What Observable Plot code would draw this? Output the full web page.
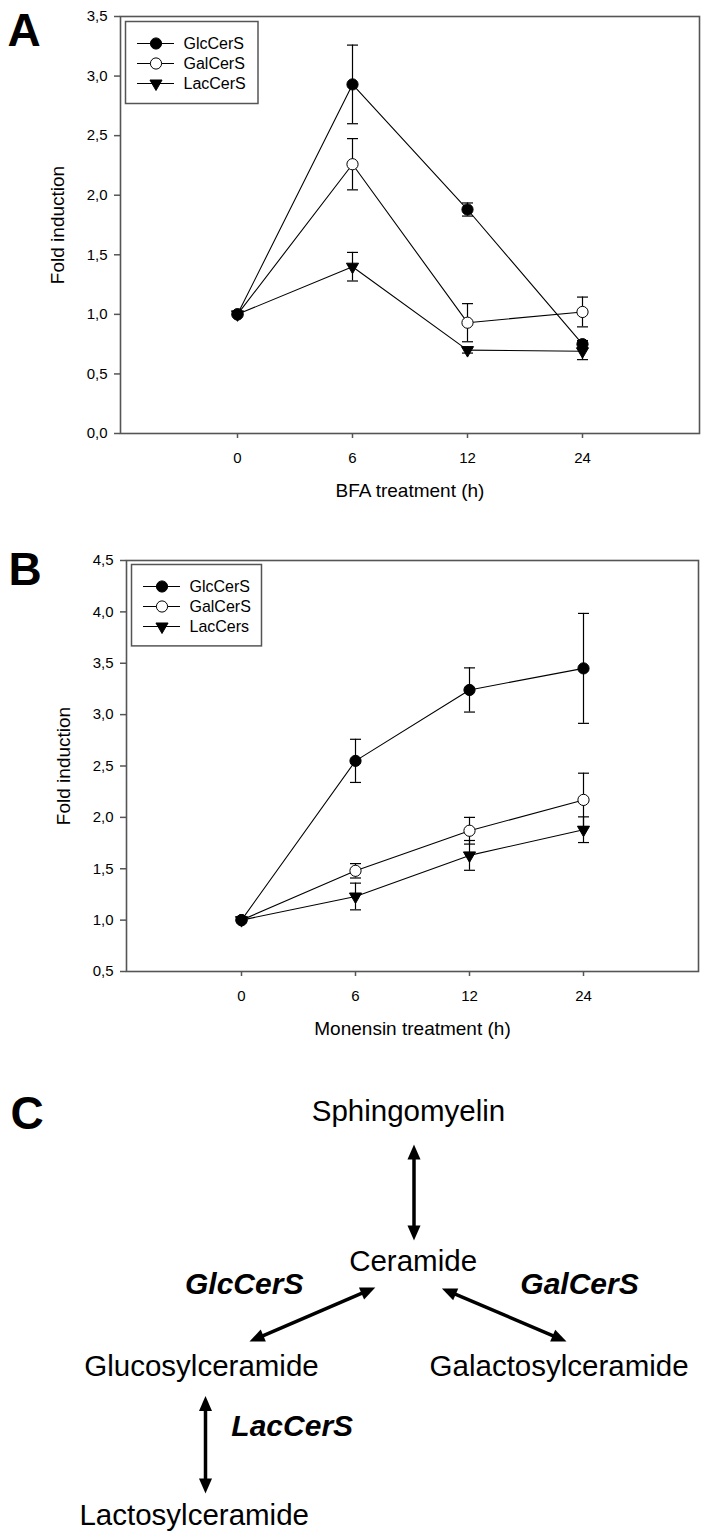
<!DOCTYPE html>
<html>
<head>
<meta charset="utf-8">
<script src="https://cdn.jsdelivr.net/npm/d3@7"></script>
<script src="https://cdn.jsdelivr.net/npm/@observablehq/plot@0.6"></script>
<style>
  body { margin: 0; background: #fff; }
  #root { position: relative; width: 706px; height: 1537px; overflow: hidden; background: #fff; }
  .panel { position: absolute; left: 0; width: 706px; }
  .legend { position: absolute; }
  svg { overflow: visible; }
</style>
</head>
<body>
<div id="root"></div>
<script>
// ---------------- data ----------------
const times = ["0", "6", "12", "24"];
const seriesA = ["GlcCerS", "GalCerS", "LacCerS"];
const seriesB = ["GlcCerS", "GalCerS", "LacCers"];

// Panel A: BFA treatment
const bfaGlc    = [1.00, 2.93, 1.88, 0.75];
const bfaGlcErr = [0.00, 0.33, 0.055, 0.03];
const bfaGal    = [1.00, 2.26, 0.93, 1.02];
const bfaGalErr = [0.00, 0.215, 0.16, 0.125];
const bfaLac    = [1.00, 1.40, 0.70, 0.69];
const bfaLacErr = [0.00, 0.12, 0.025, 0.07];

// Panel B: Monensin treatment
const monGlc    = [1.00, 2.55, 3.24, 3.45];
const monGlcErr = [0.00, 0.21, 0.215, 0.535];
const monGal    = [1.00, 1.48, 1.87, 2.17];
const monGalErr = [0.00, 0.07, 0.13, 0.26];
const monLac    = [1.00, 1.23, 1.63, 1.88];
const monLacErr = [0.00, 0.13, 0.145, 0.125];

const yTicksA = [0, 0.5, 1.0, 1.5, 2.0, 2.5, 3.0, 3.5];
const yTicksB = [0.5, 1.0, 1.5, 2.0, 2.5, 3.0, 3.5, 4.0, 4.5];
const xLabelA = "BFA treatment (h)";
const xLabelB = "Monensin treatment (h)";
const yLabel = "Fold induction";

// Panel C: pathway diagram
const lipids = ["Sphingomyelin", "Ceramide", "Glucosylceramide", "Galactosylceramide", "Lactosylceramide"];
const enzymes = ["GlcCerS", "GalCerS", "LacCerS"];
const reactions = [["Sphingomyelin", "Ceramide"], ["Ceramide", "Glucosylceramide"], ["Ceramide", "Galactosylceramide"], ["Glucosylceramide", "Lactosylceramide"]];

// ---------------- layout (diagram positions, px in panel C) ----------------
const lipidPos = {
  "Sphingomyelin": [408, 80], "Ceramide": [412.6, 230.5], "Glucosylceramide": [201, 335],
  "Galactosylceramide": [558.6, 335], "Lactosylceramide": [193.7, 484]
};
const enzymePos = {"GlcCerS": [243.7, 253], "GalCerS": [579, 253], "LacCerS": [291.7, 395]};
const arrowEnds = [
  [413.5, 104, 413.5, 200],
  [374.8, 247, 249, 301],
  [441.4, 248, 566, 301],
  [205, 355.5, 205, 453]
];

const FONT = "'Liberation Sans', Arial, Helvetica, sans-serif";
const fmt = d => d.toFixed(1).replace(".", ",");

function buildRows(names, vals, errs) {
  const rows = [];
  names.forEach((s, k) => times.forEach((t, i) => rows.push({series: s, k, time: t, value: vals[k][i], err: errs[k][i]})));
  return rows;
}

const styles = [
  {symbol: "circle", fill: "#000", stroke: "#000", r: 5.6},
  {symbol: "circle", fill: "#fff", stroke: "#000", r: 5.6},
  {symbol: "triangle", fill: "#000", stroke: "#000", r: 4.5, rotate: 180}
];

const capSymbol = {draw(ctx) { ctx.moveTo(-5.5, 0); ctx.lineTo(5.5, 0); }};

function dotMarks(data, xk, yk, extra = {}) {
  // draw open circles first, then filled circles, then triangles
  return [1, 0, 2].map(k => Plot.dot(data.filter(d => d.k === k), {x: xk, y: yk, ...styles[k], strokeWidth: 1, ...extra}));
}

function panel({rows, names, yDomain, yTicks, xLabel, letter, height, marginTop, marginBottom, marginLeft, marginRight, letterX, letterBase}) {
  const err = rows.filter(d => d.err > 0);
  return Plot.plot({
    width: 706, height, marginTop, marginBottom, marginLeft, marginRight,
    style: {fontFamily: FONT, fontSize: "15px", color: "#000", background: "transparent"},
    x: {type: "point", domain: times, padding: 1},
    y: {domain: yDomain},
    marks: [
      Plot.axisY({ticks: yTicks, tickFormat: fmt, tickSize: 6, tickPadding: 7, stroke: "#555", strokeWidth: 1.5, fontSize: 15, label: null}),
      Plot.axisX({tickSize: 5, tickPadding: 14, stroke: "#555", strokeWidth: 1.5, fontSize: 15, label: null}),
      Plot.frame({stroke: "#555", strokeWidth: 1.6}),
      Plot.line(rows, {x: "time", y: "value", z: "series", stroke: "#000", strokeWidth: 1.1}),
      Plot.ruleX(err, {x: "time", y1: d => d.value - d.err, y2: d => d.value + d.err, stroke: "#000", strokeWidth: 1.2}),
      Plot.dot(err, {x: "time", y: d => d.value + d.err, symbol: capSymbol, r: 3, stroke: "#000", strokeWidth: 1.2, fill: "none"}),
      Plot.dot(err, {x: "time", y: d => d.value - d.err, symbol: capSymbol, r: 3, stroke: "#000", strokeWidth: 1.2, fill: "none"}),
      ...dotMarks(rows, "time", "value"),
      Plot.text([xLabel], {frameAnchor: "bottom", dy: 63, lineAnchor: "bottom", textAnchor: "middle", fontSize: 19, fill: "#000"}),
      Plot.text([yLabel], {frameAnchor: "left", dx: -57, rotate: -90, lineAnchor: "bottom", textAnchor: "middle", fontSize: 19, fill: "#000"}),
      Plot.text([letter], {frameAnchor: "top-left", dx: letterX - marginLeft, dy: letterBase - marginTop, lineAnchor: "bottom", textAnchor: "start", fontSize: 46, fontWeight: "bold", fill: "#000"})
    ]
  });
}

function legend(names, w, h) {
  const items = names.map((s, k) => ({series: s, k}));
  return Plot.plot({
    width: w + 2, height: h + 2, margin: 1,
    style: {fontFamily: FONT, fontSize: "16px", color: "#000", background: "#fff"},
    x: {domain: [0, w], axis: null},
    y: {type: "point", domain: names, range: [22, 63], padding: 0, axis: null},
    marks: [
      Plot.frame({stroke: "#555", strokeWidth: 1.5, fill: "#fff"}),
      Plot.link(items, {x1: () => 11.5, x2: () => 48.5, y1: "series", y2: "series", stroke: "#000", strokeWidth: 1.2}),
      ...dotMarks(items, () => 30.5, "series"),
      Plot.text(items, {x: () => 58, y: "series", text: "series", textAnchor: "start", fontSize: 16, fill: "#000"})
    ]
  });
}

function diagram() {
  const rad = Math.PI / 180;
  const arrows = reactions.map((r, i) => {
    const [x1, y1, x2, y2] = arrowEnds[i];
    const len = Math.hypot(x2 - x1, y2 - y1), ux = (x2 - x1) / len, uy = (y2 - y1) / len;
    const inset = 10;
    return {from: r[0], to: r[1], x1, y1, x2, y2, sx1: x1 + ux * inset, sy1: y1 + uy * inset, sx2: x2 - ux * inset, sy2: y2 - uy * inset,
            a2: Math.atan2(ux, -uy) / rad, a1: Math.atan2(-ux, uy) / rad};
  });
  const heads = arrows.flatMap(a => [{x: a.x1, y: a.y1, angle: a.a1}, {x: a.x2, y: a.y2, angle: a.a2}]);
  const headSymbol = {draw(ctx) { const L = 15, W = 13; ctx.moveTo(0, 0); ctx.lineTo(W / 2, L); ctx.lineTo(-W / 2, L); ctx.closePath(); }};
  const nodes = lipids.map(n => ({name: n, x: lipidPos[n][0], y: lipidPos[n][1]}));
  const enz = enzymes.map(n => ({name: n, x: enzymePos[n][0], y: enzymePos[n][1]}));
  return Plot.plot({
    width: 706, height: 497, margin: 0,
    style: {fontFamily: FONT, color: "#000", background: "transparent"},
    x: {domain: [0, 706], axis: null},
    y: {domain: [0, 497], range: [0, 497], axis: null},
    marks: [
      Plot.link(arrows, {x1: "sx1", y1: "sy1", x2: "sx2", y2: "sy2", stroke: "#000", strokeWidth: 3.5}),
      Plot.dot(heads, {x: "x", y: "y", rotate: "angle", symbol: headSymbol, r: 5, fill: "#000", stroke: "none"}),
      Plot.text(nodes, {x: "x", y: "y", text: "name", lineAnchor: "bottom", fontSize: 29.5, fill: "#000"}),
      Plot.text(enz, {x: "x", y: "y", text: "name", lineAnchor: "bottom", fontSize: 30, fontWeight: "bold", fontStyle: "italic", fill: "#000"}),
      Plot.text(["C"], {frameAnchor: "top-left", dx: 10, dy: 88, lineAnchor: "bottom", textAnchor: "start", fontSize: 46, fontWeight: "bold", fill: "#000"})
    ]
  });
}

// ---------------- assemble ----------------
const root = document.getElementById("root");

function addPanel(top, height, svg, leg, legLeft, legTop) {
  const div = document.createElement("div");
  div.className = "panel";
  div.style.top = top + "px";
  div.style.height = height + "px";
  div.appendChild(svg);
  if (leg) {
    const ld = document.createElement("div");
    ld.className = "legend";
    ld.style.left = (legLeft - 1) + "px";
    ld.style.top = (legTop - 1) + "px";
    ld.appendChild(leg);
    div.appendChild(ld);
  }
  root.appendChild(div);
}

const rowsA = buildRows(seriesA, [bfaGlc, bfaGal, bfaLac], [bfaGlcErr, bfaGalErr, bfaLacErr]);
const rowsB = buildRows(seriesB, [monGlc, monGal, monLac], [monGlcErr, monGalErr, monLacErr]);

addPanel(0, 510, panel({rows: rowsA, names: seriesA, yDomain: [0, 3.5], yTicks: yTicksA, xLabel: xLabelA, letter: "A",
  height: 510, marginTop: 16, marginBottom: 77, marginLeft: 120, marginRight: 7, letterX: 7, letterBase: 45}),
  legend(seriesA, 132.5, 82), 124.5, 21);

addPanel(510, 530, panel({rows: rowsB, names: seriesB, yDomain: [0.5, 4.5], yTicks: yTicksB, xLabel: xLabelB, letter: "B",
  height: 530, marginTop: 50, marginBottom: 69, marginLeft: 126, marginRight: 8, letterX: 8, letterBase: 74}),
  legend(seriesB, 130, 81.4), 130.6, 54.3);

addPanel(1040, 497, diagram());
</script>
</body>
</html>
